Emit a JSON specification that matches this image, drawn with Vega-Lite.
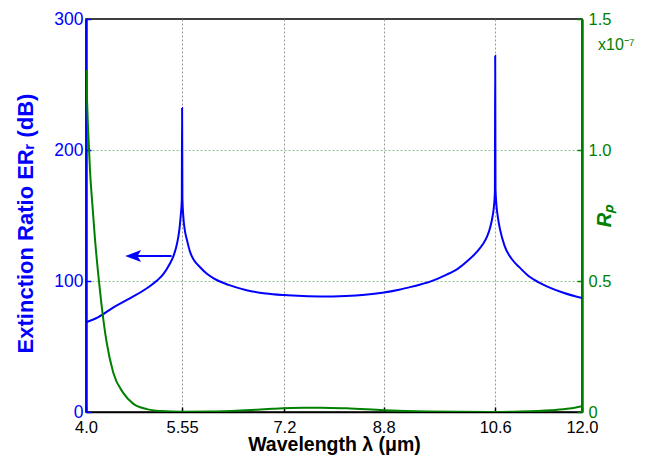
{
  "$schema": "https://vega.github.io/schema/vega-lite/v6.json",
  "width": 496,
  "height": 393,
  "autosize": {"type": "none"},
  "padding": {"left": 86, "top": 19, "right": 68, "bottom": 44},
  "background": "white",
  "config": {"font": "Liberation Sans", "view": {"stroke": "black", "strokeWidth": 1.5}},
  "datasets": {
    "er": [
      {"lambda": 4.0, "er": 68.5}, {"lambda": 4.2, "er": 72.5}, {"lambda": 4.45, "er": 80},
      {"lambda": 4.7, "er": 86.5}, {"lambda": 5.0, "er": 95}, {"lambda": 5.15, "er": 100.5},
      {"lambda": 5.25, "er": 105.5}, {"lambda": 5.35, "er": 113}, {"lambda": 5.41, "er": 119},
      {"lambda": 5.45, "er": 125}, {"lambda": 5.49, "er": 134}, {"lambda": 5.51, "er": 141},
      {"lambda": 5.53, "er": 151}, {"lambda": 5.545, "er": 162}, {"lambda": 5.55, "er": 232},
      {"lambda": 5.555, "er": 163}, {"lambda": 5.57, "er": 149}, {"lambda": 5.59, "er": 140},
      {"lambda": 5.63, "er": 131}, {"lambda": 5.68, "er": 122}, {"lambda": 5.74, "er": 116},
      {"lambda": 5.84, "er": 110.5}, {"lambda": 5.95, "er": 105.5}, {"lambda": 6.06, "er": 102},
      {"lambda": 6.3, "er": 97}, {"lambda": 6.59, "er": 93}, {"lambda": 6.9, "er": 90.5},
      {"lambda": 7.18, "er": 89.3}, {"lambda": 7.5, "er": 88.5}, {"lambda": 7.77, "er": 88.2},
      {"lambda": 8.19, "er": 88.6}, {"lambda": 8.5, "er": 89.5}, {"lambda": 8.78, "er": 91},
      {"lambda": 9.05, "er": 93.3}, {"lambda": 9.26, "er": 95.7}, {"lambda": 9.55, "er": 99.5},
      {"lambda": 9.8, "er": 104.5}, {"lambda": 10.0, "er": 109.5}, {"lambda": 10.17, "er": 116},
      {"lambda": 10.3, "er": 122}, {"lambda": 10.4, "er": 128}, {"lambda": 10.47, "er": 134},
      {"lambda": 10.52, "er": 141}, {"lambda": 10.56, "er": 150}, {"lambda": 10.58, "er": 157},
      {"lambda": 10.595, "er": 168}, {"lambda": 10.6, "er": 272}, {"lambda": 10.605, "er": 170},
      {"lambda": 10.62, "er": 158}, {"lambda": 10.645, "er": 148}, {"lambda": 10.68, "er": 139},
      {"lambda": 10.75, "er": 127}, {"lambda": 10.88, "er": 116}, {"lambda": 11.0, "er": 110},
      {"lambda": 11.16, "er": 103}, {"lambda": 11.3, "er": 99}, {"lambda": 11.48, "er": 95},
      {"lambda": 11.7, "er": 91}, {"lambda": 12.0, "er": 87}
    ],
    "rp": [
      {"lambda": 4.0, "rp": 1.305}, {"lambda": 4.03, "rp": 1.1}, {"lambda": 4.065, "rp": 0.92},
      {"lambda": 4.1, "rp": 0.8}, {"lambda": 4.145, "rp": 0.66}, {"lambda": 4.2, "rp": 0.52},
      {"lambda": 4.25, "rp": 0.41}, {"lambda": 4.33, "rp": 0.27}, {"lambda": 4.44, "rp": 0.15},
      {"lambda": 4.6, "rp": 0.073}, {"lambda": 4.76, "rp": 0.032}, {"lambda": 4.98, "rp": 0.011},
      {"lambda": 5.2, "rp": 0.004}, {"lambda": 5.55, "rp": 0.001}, {"lambda": 6.0, "rp": 0.002},
      {"lambda": 6.5, "rp": 0.006}, {"lambda": 7.0, "rp": 0.012}, {"lambda": 7.5, "rp": 0.016},
      {"lambda": 7.8, "rp": 0.0165}, {"lambda": 8.2, "rp": 0.014}, {"lambda": 8.8, "rp": 0.007},
      {"lambda": 9.5, "rp": 0.002}, {"lambda": 10.0, "rp": 0.0007}, {"lambda": 10.6, "rp": 0.0003},
      {"lambda": 11.0, "rp": 0.002}, {"lambda": 11.5, "rp": 0.007}, {"lambda": 11.8, "rp": 0.013},
      {"lambda": 12.0, "rp": 0.022}
    ],
    "arrow": [
      {"lambda": 4.75, "x2": 5.38, "er": 119, "head": 4.76}
    ]
  },
  "layer": [
    {
      "layer": [
        {
          "data": {"name": "er"},
          "mark": {"type": "line", "color": "#0000ff", "strokeWidth": 2, "interpolate": "monotone", "clip": true},
          "encoding": {
            "x": {
              "field": "lambda", "type": "quantitative", "title": "Wavelength λ (μm)",
              "scale": {"domain": [4, 12], "nice": false, "zero": false},
              "axis": {
                "values": [4, 5.55, 7.2, 8.8, 10.6, 12],
                "labelExpr": "datum.value==4?'4.0':datum.value==12?'12.0':format(datum.value,'.2~f')",
                "title": "Wavelength λ (μm)",
                "titleFontSize": 19.5, "titleFontWeight": "bold", "titleColor": "black", "titlePadding": 0,
                "labelFontSize": 16.5, "labelColor": "black", "labelFlush": false, "labelPadding": 12,
                "domainColor": "black", "domainWidth": 1.5,
                "tickColor": "black", "tickSize": -5, "tickWidth": 1.5,
                "grid": true, "gridColor": "#999999", "gridDash": [2, 2], "gridWidth": 1,
                "gridOpacity": {"condition": {"test": "datum.value==4||datum.value==12", "value": 0}, "value": 1}
              }
            },
            "y": {
              "field": "er", "type": "quantitative", "title": "Extinction Ratio  ERᵣ (dB)",
              "scale": {"domain": [0, 300], "nice": false},
              "axis": {
                "values": [0, 100, 200, 300],
                "title": "Extinction Ratio  ERᵣ (dB)",
                "titleColor": "#0000ff", "titleFontSize": 22, "titleFontWeight": "bold", "titlePadding": 16,
                "titleY": 204,
                "labelColor": "#0000ff", "labelFontSize": 17.5, "labelPadding": 8,
                "domainColor": "#0000ff", "domainWidth": 2.5,
                "tickColor": "#0000ff", "tickSize": -5, "tickWidth": 1.5,
                "grid": false
              }
            }
          }
        },
        {
          "data": {"name": "arrow"},
          "mark": {"type": "rule", "color": "#0000ff", "strokeWidth": 2},
          "encoding": {
            "x": {"field": "lambda", "type": "quantitative", "title": "Wavelength λ (μm)"},
            "x2": {"field": "x2"},
            "y": {"field": "er", "type": "quantitative", "title": "Extinction Ratio  ERᵣ (dB)"}
          }
        },
        {
          "data": {"name": "arrow"},
          "mark": {"type": "point", "filled": true, "color": "#0000ff", "opacity": 1, "size": 256, "shape": "M-1,0L1,-0.75L0.55,0L1,0.75Z"},
          "encoding": {
            "x": {"field": "head", "type": "quantitative", "title": "Wavelength λ (μm)"},
            "y": {"field": "er", "type": "quantitative", "title": "Extinction Ratio  ERᵣ (dB)"}
          }
        }
      ]
    },
    {
      "layer": [
        {
          "data": {"name": "rp"},
          "mark": {"type": "line", "color": "#008000", "strokeWidth": 2, "interpolate": "monotone", "clip": true},
          "encoding": {
            "x": {"field": "lambda", "type": "quantitative", "title": "Wavelength λ (μm)"},
            "y": {
              "field": "rp", "type": "quantitative", "title": "Rₚ",
              "scale": {"domain": [0, 1.5], "nice": false},
              "axis": {
                "orient": "right",
                "values": [0, 0.5, 1, 1.5],
                "labelExpr": "datum.value==0?'0':format(datum.value,'.1f')",
                "title": "Rₚ",
                "titleColor": "#008000", "titleFontSize": 20, "titleFontWeight": "bold", "titleFontStyle": "italic",
                "titleAngle": 270, "titlePadding": 4,
                "labelColor": "#008000", "labelFontSize": 16.5, "labelPadding": 11,
                "domainColor": "#008000", "domainWidth": 2.5,
                "tickColor": "#008000", "tickSize": -5, "tickWidth": 1.5,
                "grid": true, "gridColor": "#88c888", "gridDash": [2, 2], "gridWidth": 1,
                "gridOpacity": {"condition": {"test": "datum.value==0||datum.value==1.5", "value": 0}, "value": 1}
              }
            }
          }
        },
        {
          "data": {"values": [{"label": "x10⁻⁷"}]},
          "mark": {"type": "text", "color": "#008000", "fontSize": 16, "align": "left", "baseline": "middle", "dx": 16, "dy": 26, "clip": false},
          "encoding": {
            "x": {"datum": 12, "type": "quantitative", "title": "Wavelength λ (μm)"},
            "y": {"datum": 1.5, "type": "quantitative", "title": "Rₚ"},
            "text": {"field": "label"}
          }
        }
      ]
    }
  ],
  "resolve": {"scale": {"y": "independent"}}
}
